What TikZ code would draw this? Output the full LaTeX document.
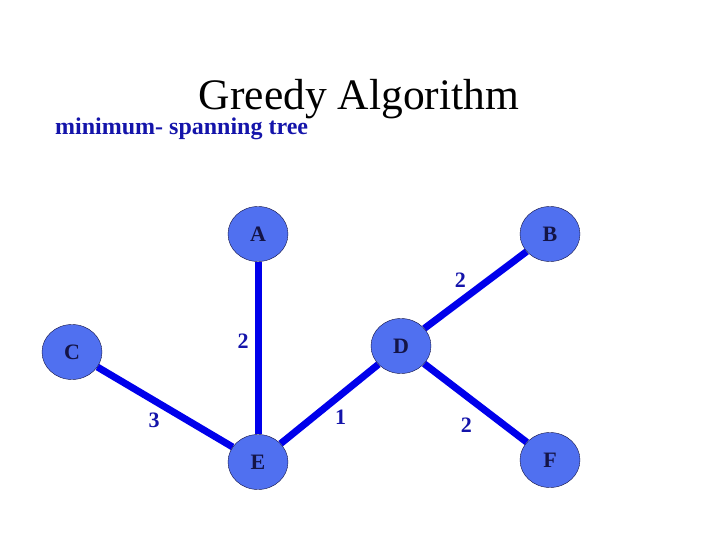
\documentclass[tikz,border=0pt]{standalone}
\usepackage{fontspec}
\setmainfont{Liberation Serif}
\usetikzlibrary{backgrounds, shapes.geometric}

\definecolor{vertexblue}{RGB}{80,112,240}
\definecolor{edgeblue}{RGB}{0,0,235}
\definecolor{labelblue}{RGB}{20,20,170}
\definecolor{inkblue}{RGB}{20,20,70}

\begin{document}
\begin{tikzpicture}[
            x=1pt, y=-1pt,
            vertex/.style={draw=inkblue, thin, fill=vertexblue, ellipse, minimum width=60pt, minimum height=55pt, inner sep=0pt, font=\fontsize{22}{24}\selectfont\bfseries, text=inkblue},
            tree edge/.style={draw=edgeblue, line width=7pt},
            weight/.style={font=\fontsize{22}{24}\selectfont\bfseries, text=labelblue, inner sep=2pt}
        ]
            \useasboundingbox (0,0) rectangle (720,540);

            \node [font=\fontsize{43.5}{46}\selectfont] (title) at (359,99) {Greedy Algorithm};
            \node [anchor=base west, inner sep=0pt, font=\fontsize{24}{26}\selectfont\bfseries, text=labelblue] (sub) at (55,135) {minimum- spanning tree};

            \node [vertex] (A) at (258,234) {A};
            \node [vertex] (B) at (550,234) {B};
            \node [vertex] (C) at (72,352) {C};
            \node [vertex] (D) at (401,346) {D};
            \node [vertex] (E) at (258,462) {E};
            \node [vertex] (F) at (550,460) {F};

            \begin{scope}[on background layer]
            \draw [tree edge] (A) -- node[weight, pos=0.46, left=4pt] (wAE) {2} (E);
            \draw [tree edge] (D) -- node[weight, pos=0.46, above left] (wDB) {2} (B);
            \draw [tree edge] (C) -- node[weight, pos=0.5, below left] (wCE) {3} (E);
            \draw [tree edge] (E) -- node[weight, pos=0.5, below right] (wED) {1} (D);
            \draw [tree edge] (D) -- node[weight, pos=0.41, below=16pt] (wDF) {2} (F);
            \end{scope}

        \end{tikzpicture}
\end{document}
